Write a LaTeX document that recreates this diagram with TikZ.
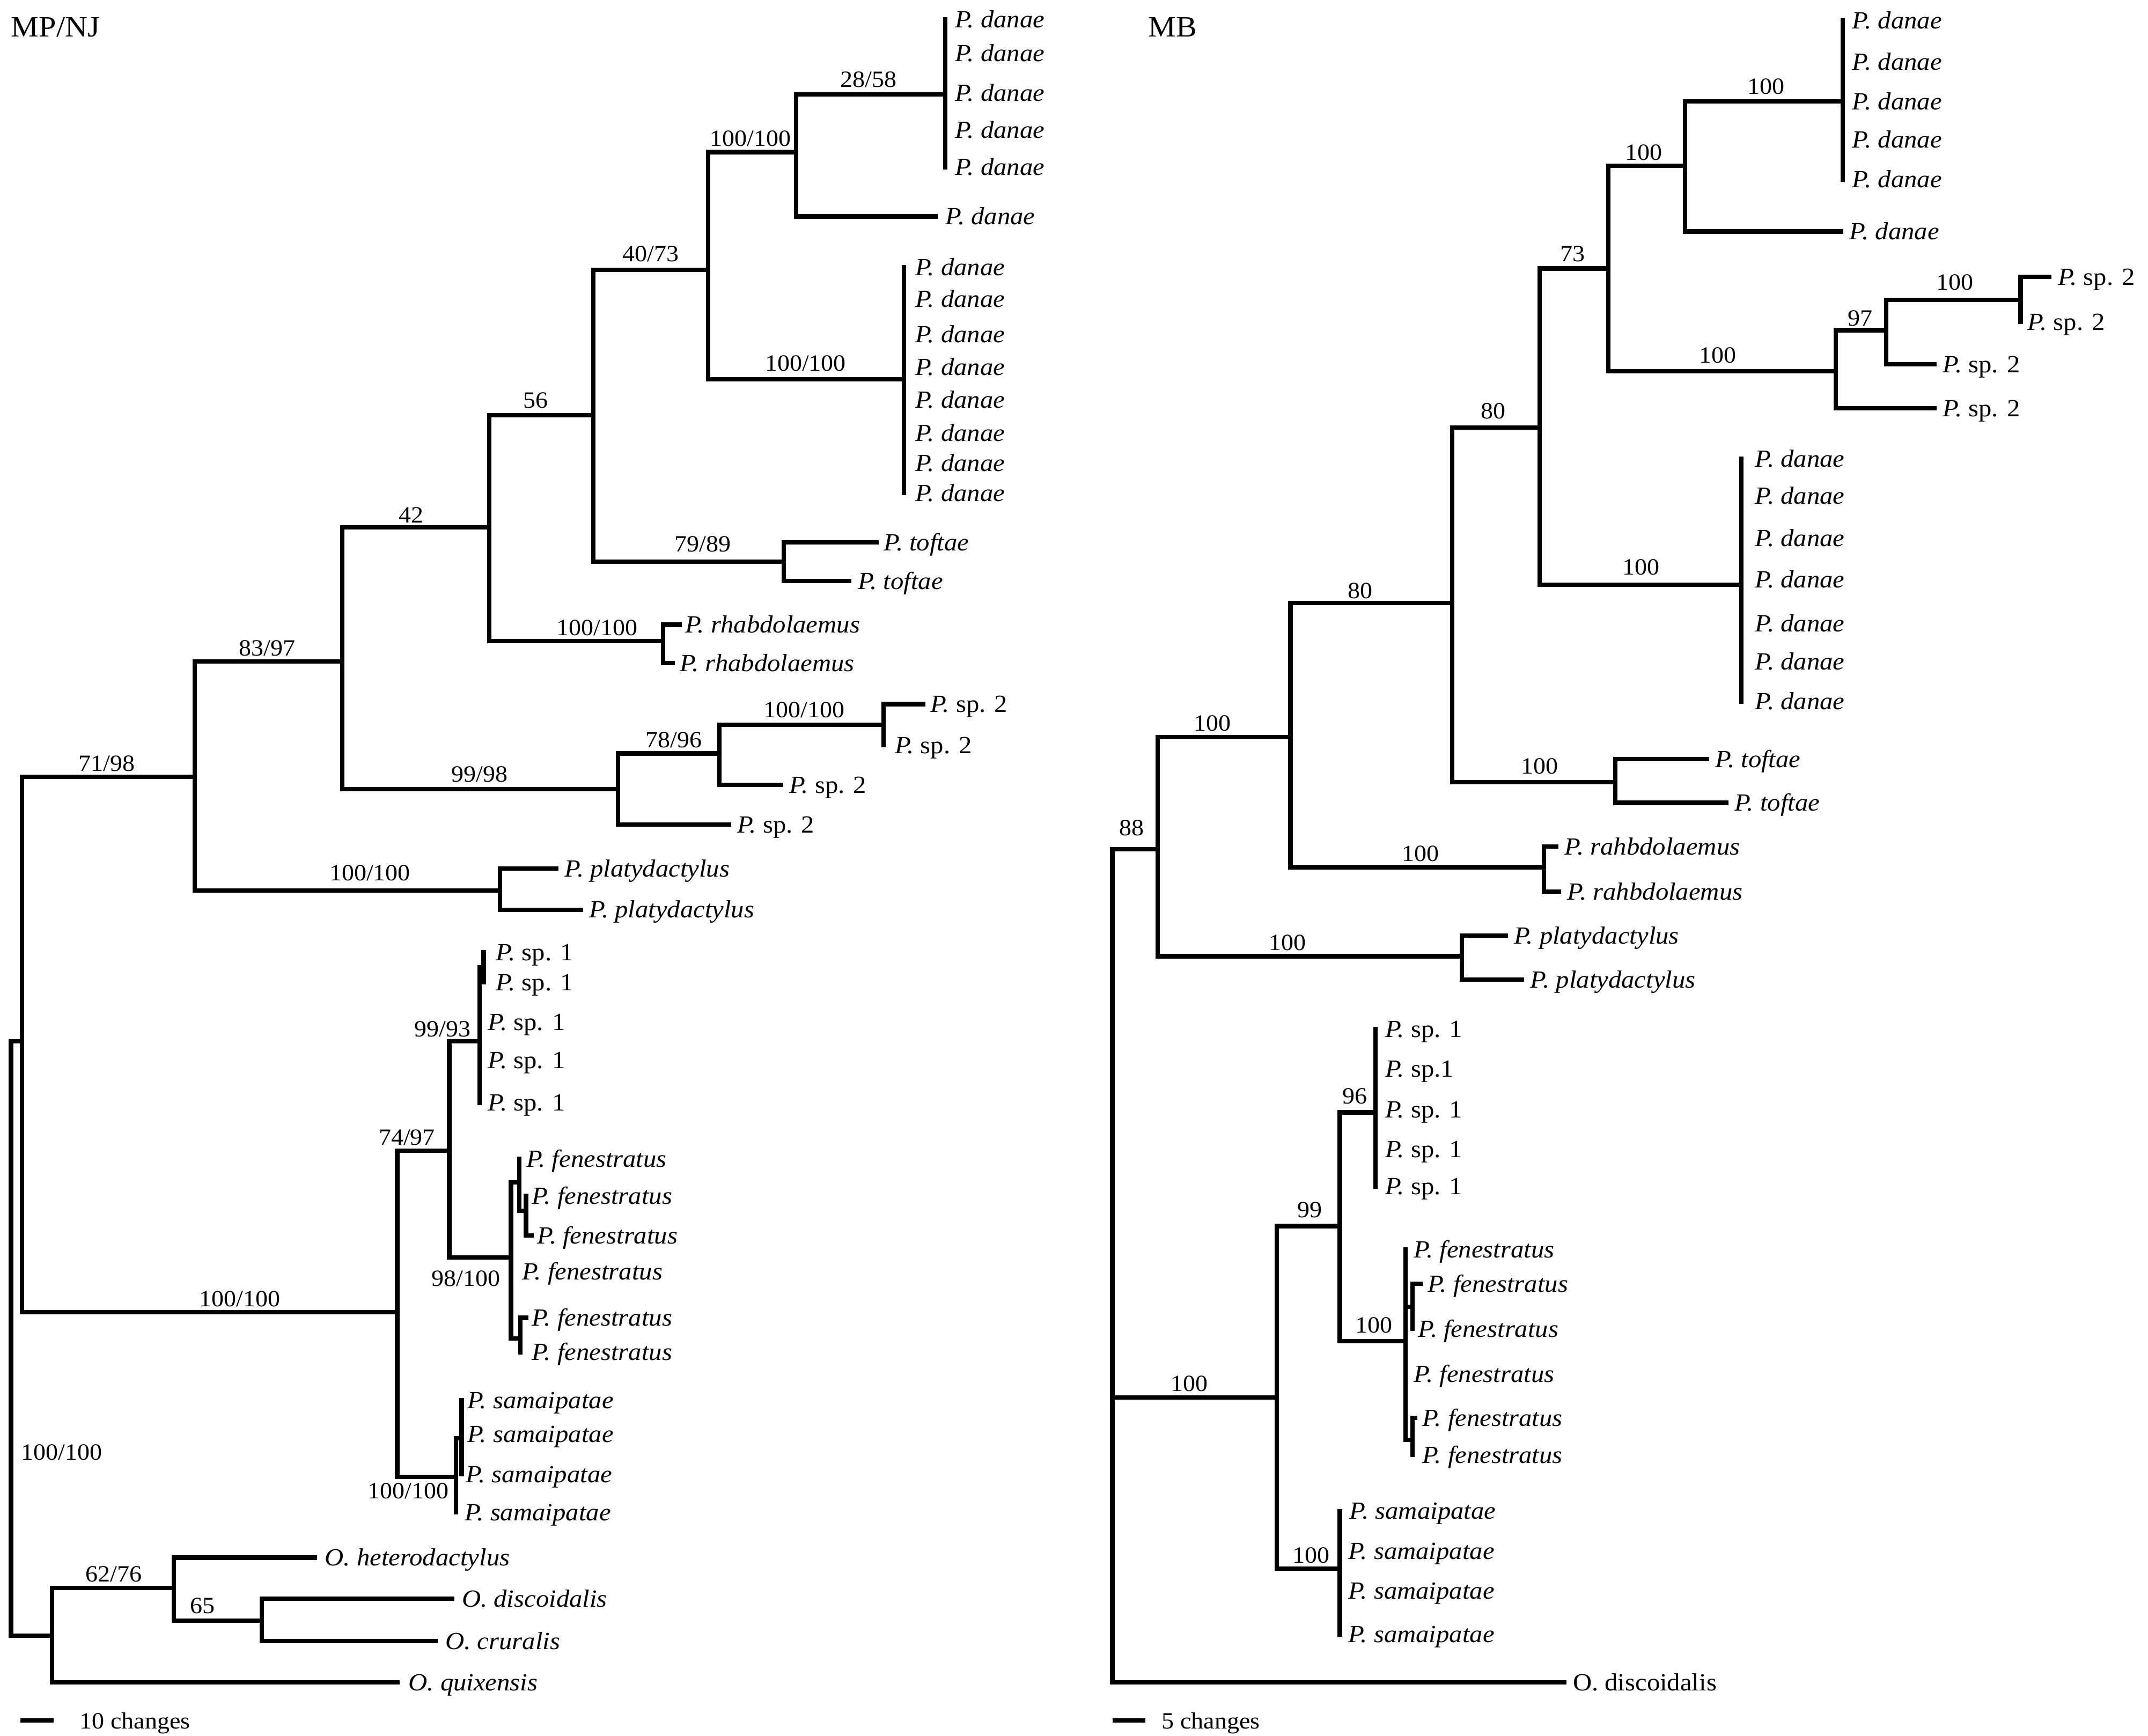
\documentclass[tikz,border=0pt]{standalone}
\usepackage{fontspec}
\setmainfont{Liberation Serif}[FakeStretch=1.06]
\usepackage{tikz}
\newcommand{\taxfont}{\fontsize{18}{21}\selectfont}
\newcommand{\suppfont}{\fontsize{17}{20}\selectfont}
\newcommand{\titlefont}{\fontsize{21.5}{25}\selectfont}

\begin{document}
\begin{tikzpicture}[
  x=1pt, y=-1pt,
  branch/.style   ={line width=3.2pt, line cap=rect, draw=black},
  taxon/.style    ={anchor=west, inner xsep=#1, inner ysep=0pt, text height=12pt, text depth=0pt, font=\taxfont},
  taxon/.default=6pt,
  support/.style  ={inner sep=0pt, text height=11.5pt, text depth=0pt, font=\suppfont},
  scaletext/.style={anchor=west, inner sep=0pt, text height=11.5pt, text depth=0pt, font=\suppfont},
  treetitle/.style={anchor=west, inner sep=0pt, text height=14pt, text depth=0pt, font=\titlefont},
  scalebar/.style ={line width=3.2pt}
]
\useasboundingbox (0,0) rectangle (1568,1267);

% ---------------- MP/NJ tree ----------------
\node[treetitle] (mtitle) at (8,20) {MP/NJ};

\coordinate (mroot) at (8,1194);
\coordinate (ming)  at (16,760);
\coordinate (mout)  at (38,1194);
\coordinate (mA)    at (142,567);
\coordinate (mB)    at (250,483);
\coordinate (mC)    at (357,385);
\coordinate (mD)    at (433,303);
\coordinate (mE)    at (517,197);
\coordinate (mF)    at (581,111);
\coordinate (mDA5)  at (690,69);
\coordinate (mDA8)  at (660,277);
\coordinate (mTO)   at (572,410);
\coordinate (mRH)   at (484,468);
\coordinate (mSP2)  at (451,576);
\coordinate (mG)    at (525,550);
\coordinate (mH)    at (645,529);
\coordinate (mPL)   at (365,650);
\coordinate (mS)    at (290,958);
\coordinate (mI)    at (328,840);
\coordinate (mSP1)  at (350,760);
\coordinate (mSP1a) at (353,706);
\coordinate (mFE)   at (373,918);
\coordinate (mFEa)  at (379,863);
\coordinate (mFEb)  at (384,884);
\coordinate (mFEc)  at (380,977);
\coordinate (mSA)   at (333,1078);
\coordinate (mSAa)  at (337,1050);
\coordinate (mOB)   at (127,1159);
\coordinate (mOC)   at (191,1183);

\node[taxon=7pt] (mda1)  at (690,14)  {\textit{P. danae}};
\node[taxon=7pt] (mda2)  at (690,39)  {\textit{P. danae}};
\node[taxon=7pt] (mda3)  at (690,68)  {\textit{P. danae}};
\node[taxon=7pt] (mda4)  at (690,95)  {\textit{P. danae}};
\node[taxon=7pt] (mda5)  at (690,122) {\textit{P. danae}};
\node[taxon=7pt] (mda6)  at (683,158) {\textit{P. danae}};
\node[taxon=8pt] (mda7)  at (660,195) {\textit{P. danae}};
\node[taxon=8pt] (mda8)  at (660,218) {\textit{P. danae}};
\node[taxon=8pt] (mda9)  at (660,244) {\textit{P. danae}};
\node[taxon=8pt] (mda10) at (660,268) {\textit{P. danae}};
\node[taxon=8pt] (mda11) at (660,292) {\textit{P. danae}};
\node[taxon=8pt] (mda12) at (660,316) {\textit{P. danae}};
\node[taxon=8pt] (mda13) at (660,338) {\textit{P. danae}};
\node[taxon=8pt] (mda14) at (660,360) {\textit{P. danae}};
\node[taxon=5pt] (mto1)  at (640,396) {\textit{P. toftae}};
\node[taxon=6pt] (mto2)  at (620,424) {\textit{P. toftae}};
\node[taxon=4pt] (mrh1)  at (496,456) {\textit{P. rhabdolaemus}};
\node[taxon=5pt] (mrh2)  at (491,484) {\textit{P. rhabdolaemus}};
\node[taxon=5pt] (msp2a) at (674,514) {\textit{P.} sp. 2};
\node[taxon=8pt] (msp2b) at (645,544) {\textit{P.} sp. 2};
\node[taxon=6pt] (msp2c) at (570,573) {\textit{P.} sp. 2};
\node[taxon=6pt] (msp2d) at (532,602) {\textit{P.} sp. 2};
\node[taxon=6pt] (mpl1)  at (406,634) {\textit{P. platydactylus}};
\node[taxon=6pt] (mpl2)  at (424,664) {\textit{P. platydactylus}};
\node[taxon=9pt] (msp1a) at (353,695) {\textit{P.} sp. 1};
\node[taxon=9pt] (msp1b) at (353,717) {\textit{P.} sp. 1};
\node[taxon=6pt] (msp1c) at (350,746) {\textit{P.} sp. 1};
\node[taxon=6pt] (msp1d) at (350,774) {\textit{P.} sp. 1};
\node[taxon=6pt] (msp1e) at (350,805) {\textit{P.} sp. 1};
\node[taxon=5pt] (mfe1)  at (379,846) {\textit{P. fenestratus}};
\node[taxon=4pt] (mfe2)  at (384,873) {\textit{P. fenestratus}};
\node[taxon=4pt] (mfe3)  at (388,902) {\textit{P. fenestratus}};
\node[taxon=8pt] (mfe4)  at (373,928) {\textit{P. fenestratus}};
\node[taxon=4pt] (mfe5)  at (384,962) {\textit{P. fenestratus}};
\node[taxon=8pt] (mfe6)  at (380,987) {\textit{P. fenestratus}};
\node[taxon=4pt] (msa1)  at (337,1022) {\textit{P. samaipatae}};
\node[taxon=4pt] (msa2)  at (337,1047) {\textit{P. samaipatae}};
\node[taxon=3pt] (msa3)  at (337,1076) {\textit{P. samaipatae}};
\node[taxon=6pt] (msa4)  at (333,1104) {\textit{P. samaipatae}};
\node[taxon=7pt] (mohe)  at (230,1137) {\textit{O. heterodactylus}};
\node[taxon=7pt] (modi)  at (330,1167) {\textit{O. discoidalis}};
\node[taxon=7pt] (mocr)  at (318,1198) {\textit{O. cruralis}};
\node[taxon=8pt] (moqu)  at (290,1228) {\textit{O. quixensis}};

\node[support] (mlF)    at (634,58)   {28/58};
\node[support] (mlE)    at (548,101)  {100/100};
\node[support] (mlDA8)  at (588,265)  {100/100};
\node[support] (mlD)    at (475,185)  {40/73};
\node[support] (mlTO)   at (513,397)  {79/89};
\node[support] (mlC)    at (391,292)  {56};
\node[support] (mlRH)   at (436,458)  {100/100};
\node[support] (mlB)    at (300,376)  {42};
\node[support] (mlH)    at (587,518)  {100/100};
\node[support] (mlG)    at (492,540)  {78/96};
\node[support] (mlSP2)  at (350,565)  {99/98};
\node[support] (mlA)    at (195,473)  {83/97};
\node[support] (mlPL)   at (270,637)  {100/100};
\node[support] (mling)  at (78,557)   {71/98};
\node[support] (mlSP1)  at (323,751)  {99/93};
\node[support] (mlI)    at (297,830)  {74/97};
\node[support] (mlFE)   at (340,933)  {98/100};
\node[support] (mlS)    at (175,948)  {100/100};
\node[support] (mlSA)   at (298,1088) {100/100};
\node[support] (mlroot) at (45,1060)  {100/100};
\node[support] (mlOB)   at (83,1149)  {62/76};
\node[support] (mlOC)   at (148,1172) {65};

\draw[branch] (mroot) |- (ming) (mroot) |- (mout);
\draw[branch] (ming) |- (mA) (ming) |- (mS);
\draw[branch] (mA) |- (mB) (mA) |- (mPL);
\draw[branch] (mB) |- (mC) (mB) |- (mSP2);
\draw[branch] (mC) |- (mD) (mC) |- (mRH);
\draw[branch] (mD) |- (mE) (mD) |- (mTO);
\draw[branch] (mE) |- (mF) (mE) |- (mDA8);
\draw[branch] (mF) |- (mDA5) (mF) |- (mda6.west);
\draw[branch] (mDA5) |- (mda1.west) (mDA5) |- (mda2.west) (mDA5) |- (mda3.west)
              (mDA5) |- (mda4.west) (mDA5) |- (mda5.west);
\draw[branch] (mDA8) |- (mda7.west) (mDA8) |- (mda8.west) (mDA8) |- (mda9.west)
              (mDA8) |- (mda10.west) (mDA8) |- (mda11.west) (mDA8) |- (mda12.west)
              (mDA8) |- (mda13.west) (mDA8) |- (mda14.west);
\draw[branch] (mTO) |- (mto1.west) (mTO) |- (mto2.west);
\draw[branch] (mRH) |- (mrh1.west) (mRH) |- (mrh2.west);
\draw[branch] (mSP2) |- (mG) (mSP2) |- (msp2d.west);
\draw[branch] (mG) |- (mH) (mG) |- (msp2c.west);
\draw[branch] (mH) |- (msp2a.west) (mH) |- (msp2b.west);
\draw[branch] (mPL) |- (mpl1.west) (mPL) |- (mpl2.west);
\draw[branch] (mS) |- (mI) (mS) |- (mSA);
\draw[branch] (mI) |- (mSP1) (mI) |- (mFE);
\draw[branch] (mSP1) |- (mSP1a) (mSP1) |- (msp1c.west) (mSP1) |- (msp1d.west) (mSP1) |- (msp1e.west);
\draw[branch] (mSP1a) |- (msp1a.west) (mSP1a) |- (msp1b.west);
\draw[branch] (mFE) |- (mFEa) (mFE) |- (mfe4.west) (mFE) |- (mFEc);
\draw[branch] (mFEa) |- (mfe1.west) (mFEa) |- (mFEb);
\draw[branch] (mFEb) |- (mfe2.west) (mFEb) |- (mfe3.west);
\draw[branch] (mFEc) |- (mfe5.west) (mFEc) |- (mfe6.west);
\draw[branch] (mSA) |- (mSAa) (mSA) |- (msa4.west);
\draw[branch] (mSAa) |- (msa1.west) (mSAa) |- (msa2.west) (mSAa) |- (msa3.west);
\draw[branch] (mout) |- (mOB) (mout) |- (moqu.west);
\draw[branch] (mOB) |- (mohe.west) (mOB) |- (mOC);
\draw[branch] (mOC) |- (modi.west) (mOC) |- (mocr.west);

\coordinate (msb0) at (15,1256);
\coordinate (msb1) at (39,1256);
\draw[scalebar] (msb0) -- (msb1);
\node[scaletext] (msbtext) at (58,1256) {10 changes};

% ---------------- MB tree ----------------
\node[treetitle] (btitle) at (838,20) {MB};

\coordinate (bR)    at (812,1020);
\coordinate (bR1)   at (845,620);
\coordinate (bR2)   at (932,1020);
\coordinate (bR3)   at (942,538);
\coordinate (bR4)   at (1060,440);
\coordinate (bR5)   at (1124,312);
\coordinate (bR6)   at (1174,196);
\coordinate (bR7)   at (1230,121);
\coordinate (bDA5)  at (1345,74);
\coordinate (bSP2)  at (1340,271);
\coordinate (bR8)   at (1377,241);
\coordinate (bR9)   at (1475,219);
\coordinate (bDA7)  at (1271,427);
\coordinate (bTO)   at (1179,571);
\coordinate (bRH)   at (1127,633);
\coordinate (bPL)   at (1067,698);
\coordinate (bR10)  at (978,895);
\coordinate (bSP1)  at (1004,812);
\coordinate (bFE)   at (1026,979);
\coordinate (bFEa)  at (1031,954);
\coordinate (bFEb)  at (1031,1051);
\coordinate (bSA)   at (978,1145);

\node[taxon=7pt] (bda1)  at (1345,15)  {\textit{P. danae}};
\node[taxon=7pt] (bda2)  at (1345,45)  {\textit{P. danae}};
\node[taxon=7pt] (bda3)  at (1345,74)  {\textit{P. danae}};
\node[taxon=7pt] (bda4)  at (1345,102) {\textit{P. danae}};
\node[taxon=7pt] (bda5)  at (1345,131) {\textit{P. danae}};
\node[taxon=6pt] (bda6)  at (1344,169) {\textit{P. danae}};
\node[taxon=6pt] (bsp2a) at (1496,202) {\textit{P.} sp. 2};
\node[taxon=5pt] (bsp2b) at (1475,235) {\textit{P.} sp. 2};
\node[taxon=6pt] (bsp2c) at (1412,266) {\textit{P.} sp. 2};
\node[taxon=6pt] (bsp2d) at (1412,298) {\textit{P.} sp. 2};
\node[taxon=10pt] (bda7)  at (1271,335) {\textit{P. danae}};
\node[taxon=10pt] (bda8)  at (1271,362) {\textit{P. danae}};
\node[taxon=10pt] (bda9)  at (1271,393) {\textit{P. danae}};
\node[taxon=10pt] (bda10) at (1271,423) {\textit{P. danae}};
\node[taxon=10pt] (bda11) at (1271,455) {\textit{P. danae}};
\node[taxon=10pt] (bda12) at (1271,483) {\textit{P. danae}};
\node[taxon=10pt] (bda13) at (1271,512) {\textit{P. danae}};
\node[taxon=6pt] (bto1)  at (1246,554) {\textit{P. toftae}};
\node[taxon=6pt] (bto2)  at (1260,586) {\textit{P. toftae}};
\node[taxon=6pt] (brh1)  at (1136,618) {\textit{P. rahbdolaemus}};
\node[taxon=6pt] (brh2)  at (1138,651) {\textit{P. rahbdolaemus}};
\node[taxon=6pt] (bpl1)  at (1099,683) {\textit{P. platydactylus}};
\node[taxon=6pt] (bpl2)  at (1111,715) {\textit{P. platydactylus}};
\node[taxon=7pt] (bsp1a) at (1004,751) {\textit{P.} sp. 1};
\node[taxon=7pt] (bsp1b) at (1004,780) {\textit{P.} sp.1};
\node[taxon=7pt] (bsp1c) at (1004,810) {\textit{P.} sp. 1};
\node[taxon=7pt] (bsp1d) at (1004,839) {\textit{P.} sp. 1};
\node[taxon=7pt] (bsp1e) at (1004,866) {\textit{P.} sp. 1};
\node[taxon=6pt] (bfe1)  at (1026,912)  {\textit{P. fenestratus}};
\node[taxon=5pt] (bfe2)  at (1037,937)  {\textit{P. fenestratus}};
\node[taxon=4pt] (bfe3)  at (1031,970)  {\textit{P. fenestratus}};
\node[taxon=6pt] (bfe4)  at (1026,1003) {\textit{P. fenestratus}};
\node[taxon=5pt] (bfe5)  at (1033,1035) {\textit{P. fenestratus}};
\node[taxon=7pt] (bfe6)  at (1031,1062) {\textit{P. fenestratus}};
\node[taxon=7pt] (bsa1)  at (978,1103) {\textit{P. samaipatae}};
\node[taxon=6pt] (bsa2)  at (978,1132) {\textit{P. samaipatae}};
\node[taxon=6pt] (bsa3)  at (978,1161) {\textit{P. samaipatae}};
\node[taxon=6pt] (bsa4)  at (978,1193) {\textit{P. samaipatae}};
\node[taxon=6pt] (bodi)  at (1142,1228) {O. discoidalis};

\node[support] (blR7)  at (1289,63)   {100};
\node[support] (blR6)  at (1200,111)  {100};
\node[support] (blR5)  at (1148,185)  {73};
\node[support] (blR9)  at (1427,206)  {100};
\node[support] (blR8)  at (1358,232)  {97};
\node[support] (blSP2) at (1254,259)  {100};
\node[support] (blR4)  at (1090,300)  {80};
\node[support] (blDA7) at (1198,414)  {100};
\node[support] (blR3)  at (993,431)   {80};
\node[support] (blR1)  at (885,528)   {100};
\node[support] (blTO)  at (1124,559)  {100};
\node[support] (blroot) at (826,604)  {88};
\node[support] (blRH)  at (1037,623)  {100};
\node[support] (blPL)  at (940,688)   {100};
\node[support] (blSP1) at (989,800)   {96};
\node[support] (blR10) at (956,883)   {99};
\node[support] (blFE)  at (1003,967)  {100};
\node[support] (blR2)  at (868,1010)  {100};
\node[support] (blSA)  at (957,1135)  {100};

\draw[branch] (bR) |- (bR1) (bR) |- (bR2) (bR) |- (bodi.west);
\draw[branch] (bR1) |- (bR3) (bR1) |- (bPL);
\draw[branch] (bR3) |- (bR4) (bR3) |- (bRH);
\draw[branch] (bR4) |- (bR5) (bR4) |- (bTO);
\draw[branch] (bR5) |- (bR6) (bR5) |- (bDA7);
\draw[branch] (bR6) |- (bR7) (bR6) |- (bSP2);
\draw[branch] (bR7) |- (bDA5) (bR7) |- (bda6.west);
\draw[branch] (bDA5) |- (bda1.west) (bDA5) |- (bda2.west) (bDA5) |- (bda3.west)
              (bDA5) |- (bda4.west) (bDA5) |- (bda5.west);
\draw[branch] (bSP2) |- (bR8) (bSP2) |- (bsp2d.west);
\draw[branch] (bR8) |- (bR9) (bR8) |- (bsp2c.west);
\draw[branch] (bR9) |- (bsp2a.west) (bR9) |- (bsp2b.west);
\draw[branch] (bDA7) |- (bda7.west) (bDA7) |- (bda8.west) (bDA7) |- (bda9.west)
              (bDA7) |- (bda10.west) (bDA7) |- (bda11.west) (bDA7) |- (bda12.west)
              (bDA7) |- (bda13.west);
\draw[branch] (bTO) |- (bto1.west) (bTO) |- (bto2.west);
\draw[branch] (bRH) |- (brh1.west) (bRH) |- (brh2.west);
\draw[branch] (bPL) |- (bpl1.west) (bPL) |- (bpl2.west);
\draw[branch] (bR2) |- (bR10) (bR2) |- (bSA);
\draw[branch] (bR10) |- (bSP1) (bR10) |- (bFE);
\draw[branch] (bSP1) |- (bsp1a.west) (bSP1) |- (bsp1b.west) (bSP1) |- (bsp1c.west)
              (bSP1) |- (bsp1d.west) (bSP1) |- (bsp1e.west);
\draw[branch] (bFE) |- (bfe1.west) (bFE) |- (bFEa) (bFE) |- (bfe4.west) (bFE) |- (bFEb);
\draw[branch] (bFEa) |- (bfe2.west) (bFEa) |- (bfe3.west);
\draw[branch] (bFEb) |- (bfe5.west) (bFEb) |- (bfe6.west);
\draw[branch] (bSA) |- (bsa1.west) (bSA) |- (bsa2.west) (bSA) |- (bsa3.west) (bSA) |- (bsa4.west);

\coordinate (bsb0) at (812,1256);
\coordinate (bsb1) at (836,1256);
\draw[scalebar] (bsb0) -- (bsb1);
\node[scaletext] (bsbtext) at (848,1256) {5 changes};

\end{tikzpicture}
\end{document}
